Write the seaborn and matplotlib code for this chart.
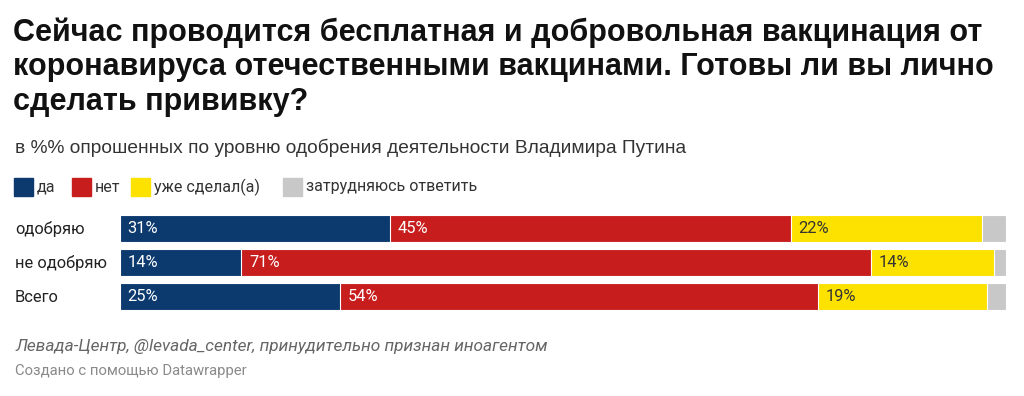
import matplotlib
matplotlib.use("Agg")
import matplotlib.pyplot as plt
import seaborn as sns
import pandas as pd
import numpy as np

# data (share of respondents, %)
groups = ["одобряю", "не одобряю", "Всего"]
answers = ["да", "нет", "уже сделал(а)", "затрудняюсь ответить"]
yes = [30.5, 13.7, 24.8]
no = [45.2, 71.1, 54.0]
done = [21.6, 13.8, 19.0]
unsure = [2.7, 1.4, 2.2]
yes_lbl = ["31%", "14%", "25%"]
no_lbl = ["45%", "71%", "54%"]
done_lbl = ["22%", "14%", "19%"]

colors = ["#0c3a6e", "#c71e1d", "#fde200", "#c8c8c8"]
text_colors = ["white", "white", "#333333", None]

W, H = 1024, 396
sns.set_style("white")
plt.rcParams["font.family"] = ["Roboto", "DejaVu Sans"]

fig = plt.figure(figsize=(W / 100, H / 100), dpi=100)
ax = fig.add_axes([120 / W, 1 - 313.3 / H, 886 / W, 101.8 / H])

df = pd.DataFrame({"group": groups, "yes": yes, "no": no, "done": done, "unsure": unsure})
parts = ["yes", "no", "done", "unsure"]
cum = df[parts].cumsum(axis=1)

# stacked bars: draw cumulative totals from the back to the front
for i in reversed(range(len(parts))):
    sns.barplot(x=cum[parts[i]], y=df["group"], color=colors[i], orient="h",
                width=0.81, edgecolor="white", linewidth=0.8, ax=ax, saturation=1)

labels = [yes_lbl, no_lbl, done_lbl]
for i in range(3):
    starts = cum[parts[i]] - df[parts[i]]
    for j, s in enumerate(starts):
        ax.annotate(labels[i][j], (s, j), xytext=(5.5, 0), textcoords="offset points",
                    va="center", ha="left", fontsize=11.8, color=text_colors[i])

ax.set_xlim(0, 100)
ax.set_ylim(2.5, -0.5)
ax.set_xlabel("")
ax.set_ylabel("")
ax.set_xticks([])
ax.set_yticks([])
sns.despine(ax=ax, left=True, bottom=True)

def px(x, y):
    return x / W, 1 - y / H

# category labels
for j, g in enumerate(groups):
    fig.text(*px(15, 229 + j * 34), g, fontsize=11.9, va="center", color="#222222")

# title & subtitle
title_lines = ["Сейчас проводится бесплатная и добровольная вакцинация от",
               "коронавируса отечественными вакцинами. Готовы ли вы лично",
               "сделать прививку?"]
for k, line in enumerate(title_lines):
    fig.text(*px(13, 40.7 + k * 34.7), line, fontsize=22, fontweight="bold",
             va="baseline", family="Liberation Sans", color="#111111")
fig.text(*px(15, 148), "в %% опрошенных по уровню одобрения деятельности Владимира Путина",
         fontsize=13.8, va="center", family="Liberation Sans", color="#333333")

# legend
leg_x = [14, 72, 131, 283]
for k, name in enumerate(answers):
    fig.patches.append(plt.Rectangle(px(leg_x[k], 196), 19 / W, 18 / H,
                                     transform=fig.transFigure, color=colors[k]))
    fig.text(*px(leg_x[k] + 23, 187), name, fontsize=11.5, va="center", color="#333333")

# footer
fig.text(*px(15, 347), "Левада-Центр, @levada_center, принудительно признан иноагентом",
         fontsize=12.4, style="italic", va="center", color="#666666")
fig.text(*px(15, 371), "Создано с помощью Datawrapper", fontsize=10.7, va="center",
         color="#8a8a8a")

fig.savefig("out.png", dpi=100, facecolor="white")
